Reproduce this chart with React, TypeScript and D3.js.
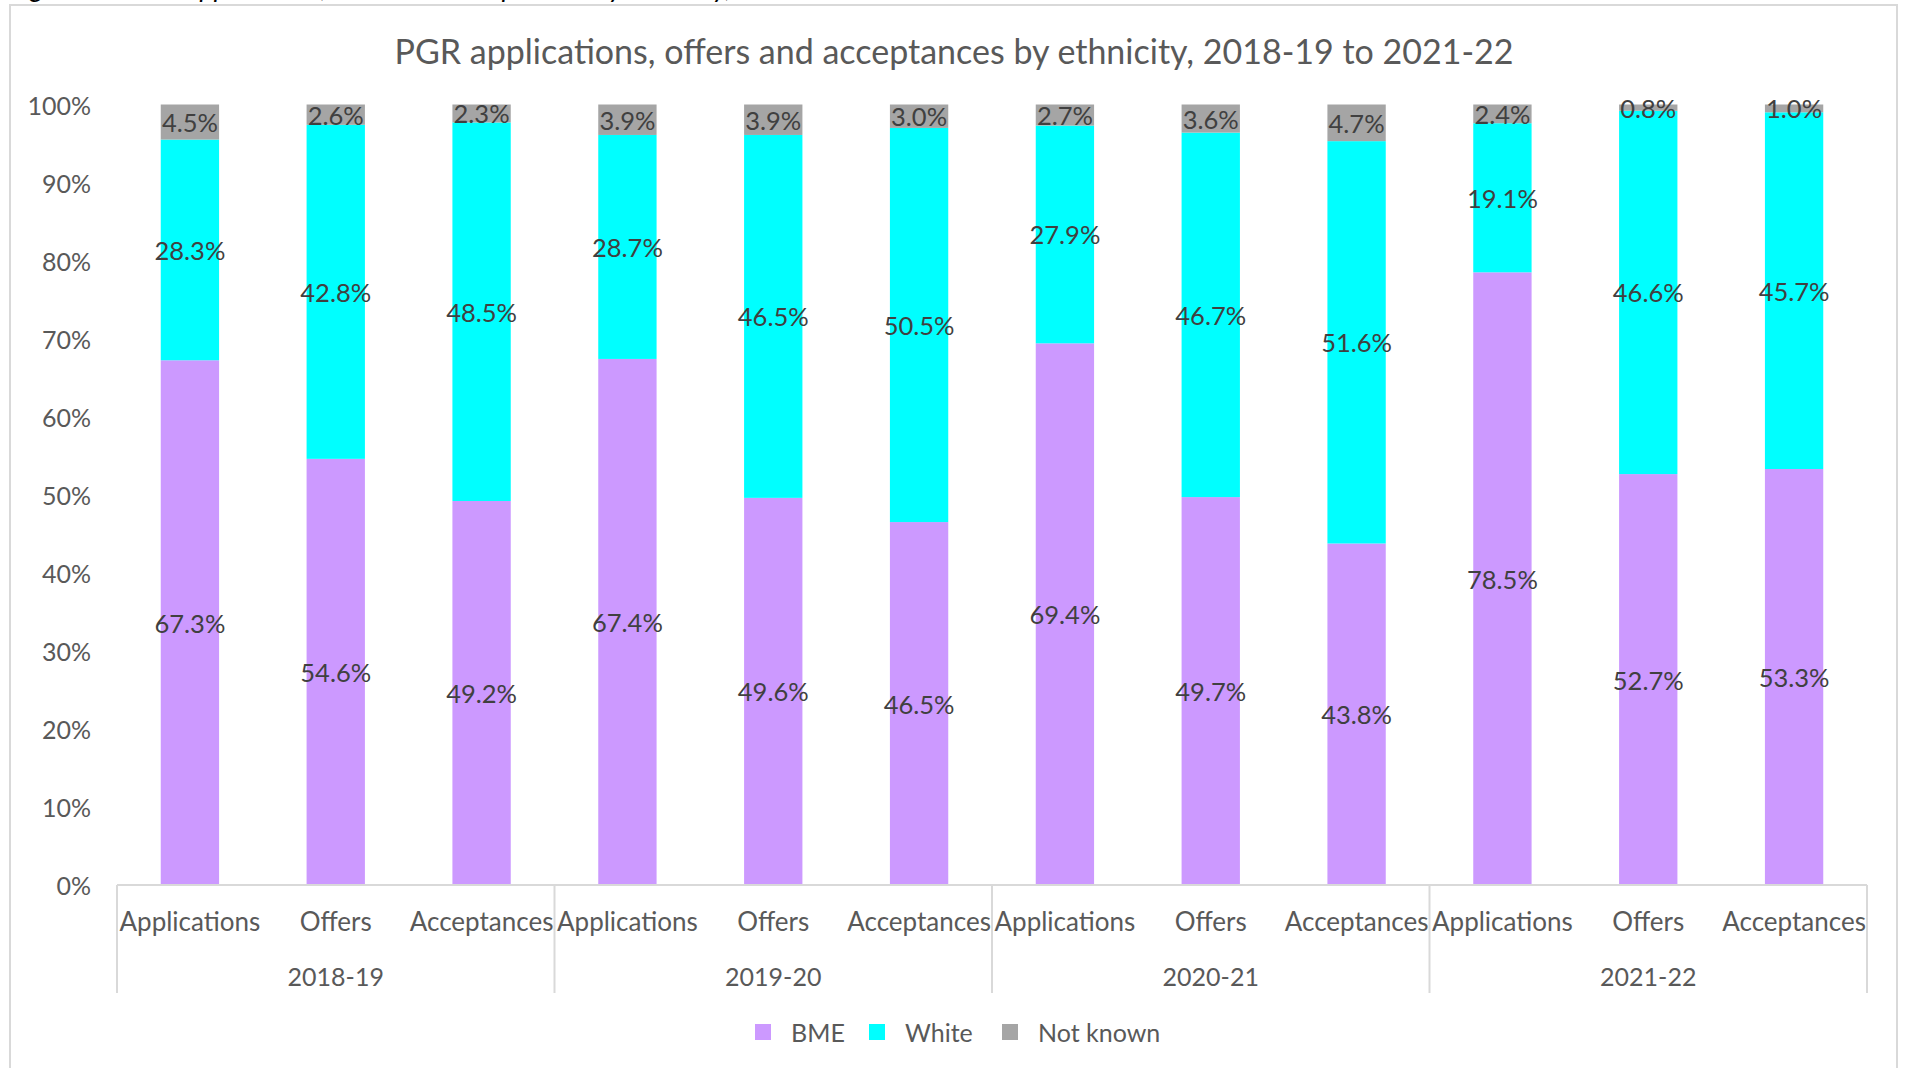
import React from "react";
import * as d3 from "d3";

const years = ["2018-19", "2019-20", "2020-21", "2021-22"];
const stages = ["Applications", "Offers", "Acceptances"];
const seriesNames = ["BME", "White", "Not known"];
const seriesColors = ["#CC99FF", "#00FFFF", "#A5A5A5"];

// percentages per bar, in order year x stage
const bme = [67.3, 54.6, 49.2, 67.4, 49.6, 46.5, 69.4, 49.7, 43.8, 78.5, 52.7, 53.3];
const white = [28.3, 42.8, 48.5, 28.7, 46.5, 50.5, 27.9, 46.7, 51.6, 19.1, 46.6, 45.7];
const notKnown = [4.5, 2.6, 2.3, 3.9, 3.9, 3.0, 2.7, 3.6, 4.7, 2.4, 0.8, 1.0];
const yTicks = [0, 0.1, 0.2, 0.3, 0.4, 0.5, 0.6, 0.7, 0.8, 0.9, 1];

const W = 1905;
const H = 1068;
const FONT = "Lato, 'Open Sans', sans-serif";
const left = 117;
const right = 1867;
const top = 104.5;
const bottom = 885;

type Row = { key: string; year: string; stage: string; BME: number; White: number; "Not known": number };

const rows: Row[] = years.flatMap((year, yi) =>
  stages.map((stage, si) => {
    const i = yi * stages.length + si;
    return { key: `${year}|${stage}`, year, stage, BME: bme[i], White: white[i], "Not known": notKnown[i] };
  })
);

const App = () => {
  const x = d3
    .scaleBand<string>()
    .domain(rows.map(r => r.key))
    .range([left, right])
    .paddingInner(0.6)
    .paddingOuter(0.3);
  const y = d3.scaleLinear().domain([0, 1]).range([bottom, top]);
  const color = d3.scaleOrdinal<string, string>().domain(seriesNames).range(seriesColors);

  const stacked = d3
    .stack<Row>()
    .keys(seriesNames)
    .offset(d3.stackOffsetExpand)(rows);

  const groupWidth = (right - left) / years.length;
  const groupEdges = d3.range(years.length + 1).map(i => left + i * groupWidth);

  const legendItems = [
    { name: "BME", x: 755 },
    { name: "White", x: 869 },
    { name: "Not known", x: 1002 },
  ];

  return (
    <>
      <style>{`body{margin:0;}`}</style>
      <svg width={W} height={H} style={{ display: "block", background: "#fff" }} fontFamily={FONT}>
        {/* caption, cut off at the top of the page like in the source */}
        <text x={10} y={-3} fontSize={27} fontStyle="italic" fill="#000">
          Figure 13: PGR applications, offers and acceptances by ethnicity, 2018-19 to 2021-22
        </text>
        <rect x={10} y={5} width={1887} height={1100} fill="none" stroke="#D9D9D9" strokeWidth={2} />

        <text x={954} y={50} textAnchor="middle" dominantBaseline="central" fontSize={34} fill="#595959">
          PGR applications, offers and acceptances by ethnicity, 2018-19 to 2021-22
        </text>

        {yTicks.map(t => (
          <text
            key={t}
            x={91}
            y={y(t)}
            textAnchor="end"
            dominantBaseline="central"
            fontSize={25}
            fill="#595959"
          >
            {d3.format(".0%")(t)}
          </text>
        ))}

        {stacked.map(layer => (
          <g key={layer.key} fill={color(layer.key)}>
            {layer.map(d => (
              <rect
                key={d.data.key}
                x={x(d.data.key)}
                y={y(d[1])}
                width={x.bandwidth()}
                height={y(d[0]) - y(d[1])}
              />
            ))}
          </g>
        ))}

        {stacked.map(layer => (
          <g key={`lab-${layer.key}`}>
            {layer.map(d => (
              <text
                key={d.data.key}
                x={(x(d.data.key) ?? 0) + x.bandwidth() / 2}
                y={y((d[0] + d[1]) / 2)}
                textAnchor="middle"
                dominantBaseline="central"
                fontSize={25.5}
                fill="#404040"
              >
                {(d.data[layer.key as keyof Row] as number).toFixed(1)}%
              </text>
            ))}
          </g>
        ))}

        <line x1={left} x2={right} y1={bottom} y2={bottom} stroke="#D9D9D9" strokeWidth={2} />
        {groupEdges.map((gx, i) => (
          <line key={i} x1={gx} x2={gx} y1={bottom} y2={993} stroke="#D9D9D9" strokeWidth={2} />
        ))}

        {rows.map(r => (
          <text
            key={r.key}
            x={(x(r.key) ?? 0) + x.bandwidth() / 2}
            y={921}
            textAnchor="middle"
            dominantBaseline="central"
            fontSize={26}
            fill="#595959"
          >
            {r.stage}
          </text>
        ))}
        {years.map((yr, i) => (
          <text
            key={yr}
            x={groupEdges[i] + groupWidth / 2}
            y={976}
            textAnchor="middle"
            dominantBaseline="central"
            fontSize={25}
            fill="#595959"
          >
            {yr}
          </text>
        ))}

        {legendItems.map(item => (
          <g key={item.name} transform={`translate(${item.x},1032)`}>
            <rect x={0} y={-8} width={16} height={16} fill={color(item.name)} />
            <text x={36} y={0} dominantBaseline="central" fontSize={25} fill="#595959">
              {item.name}
            </text>
          </g>
        ))}
      </svg>
    </>
  );
};

export default App;
